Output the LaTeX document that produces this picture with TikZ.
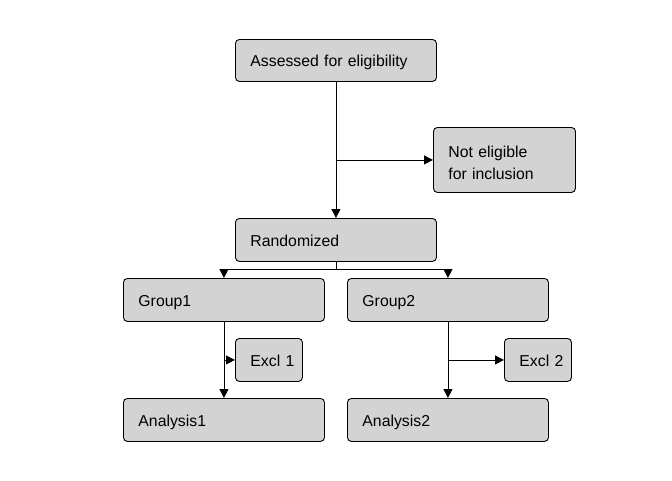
\documentclass[tikz,border=0pt]{standalone}
\usepackage{fontspec}
\setmainfont{Liberation Sans}
\usetikzlibrary{arrows.meta}
\definecolor{boxfill}{HTML}{D3D3D3}
\begin{document}
\begin{tikzpicture}[x=1pt,y=-1pt,
  box/.style={draw=black, fill=boxfill, rounded corners=4pt, line width=0.9pt,
    anchor=north west, align=left, inner xsep=15pt, inner ysep=0pt,
    text height=12.2pt, text depth=0pt,
    font=\fontsize{15.8}{22.6}\selectfont},
  conn/.style={line width=0.9pt, -{Triangle[length=9pt,width=9pt]}},
  plain/.style={line width=0.9pt}]
\useasboundingbox (0,0) rectangle (672,480);
\node[box, text width=171pt, minimum height=42pt] (assess) at (235,39) {Assessed for eligibility};
\node[box, text width=112pt, minimum height=65pt, text height=17pt, text depth=22.6pt] (noelig) at (433,127) {Not eligible\\for inclusion};
\node[box, text width=171pt, minimum height=43pt] (rand) at (235,218) {Randomized};
\node[box, text width=171pt, minimum height=43pt] (g1) at (123,278) {Group1};
\node[box, text width=171pt, minimum height=43pt] (g2) at (347,278) {Group2};
\node[box, text width=37pt, minimum height=43pt] (ex1) at (235,338) {\mbox{Excl 1}};
\node[box, text width=37pt, minimum height=43pt] (ex2) at (504,338) {\mbox{Excl 2}};
\node[box, text width=171pt, minimum height=43pt] (a1) at (123,398) {Analysis1};
\node[box, text width=171pt, minimum height=43pt] (a2) at (347,398) {Analysis2};
\coordinate (split) at ([yshift=-8pt]rand.south);
\draw[conn] (assess.south) -- (rand.north);
\draw[conn] (assess.south |- noelig.west) -- (noelig.west);
\draw[plain] (rand.south) -- (split);
\draw[conn] (split) -| (g1.north);
\draw[conn] (split) -| (g2.north);
\draw[conn] (g1.south) -- (a1.north);
\draw[conn] (g2.south) -- (a2.north);
\draw[conn] (g1.south |- ex1.west) -- (ex1.west);
\draw[conn] (g2.south |- ex2.west) -- (ex2.west);
\end{tikzpicture}
\end{document}
